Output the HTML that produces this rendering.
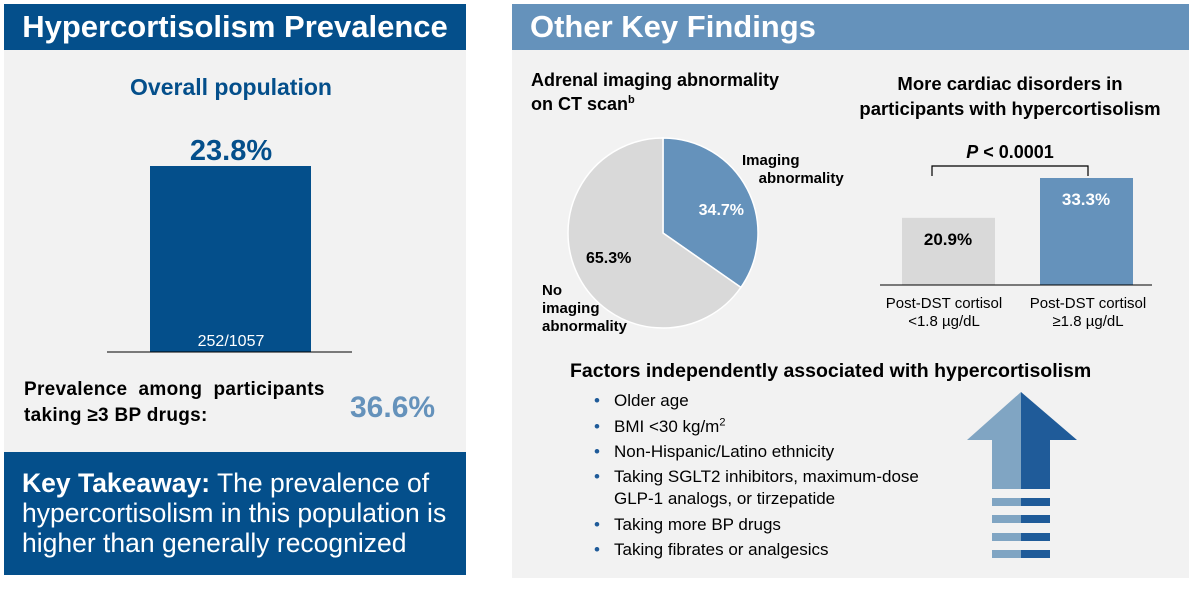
<!DOCTYPE html>
<html><head><meta charset="utf-8"><style>
body{margin:0;width:1194px;height:589px;background:#fff;font-family:"Liberation Sans",Arial,sans-serif;position:relative;overflow:hidden}
.a{position:absolute}
b{font-weight:bold}
.bl{position:relative;padding-left:20px}
.bl span{position:absolute;left:0;color:#1f5b99}
</style></head><body>
<div class="a" style="left:4px;top:4px;width:462px;height:571px;background:#f2f2f2"></div>
<div class="a" style="left:4px;top:4px;width:462px;height:46px;background:#044f8b;color:#fff;font-size:31px;font-weight:bold;line-height:46px;text-align:center">Hypercortisolism Prevalence</div>
<div class="a" style="left:512px;top:4px;width:677px;height:574px;background:#f2f2f2"></div>
<div class="a" style="left:512px;top:4px;width:677px;height:46px;background:#6592bb;color:#fff;font-size:31px;font-weight:bold;line-height:46px;padding-left:18px;box-sizing:border-box">Other Key Findings</div>

<div class="a" style="left:4px;top:74px;width:454px;text-align:center;color:#044f8b;font-size:23px;font-weight:bold">Overall population</div>
<svg class="a" style="left:0;top:0" width="1194" height="589">
<g id="g"></g>
</svg>
<div class="a" style="left:24px;top:377px;font-size:19px;font-weight:bold;line-height:26px;letter-spacing:0.3px">Prevalence&nbsp; among&nbsp; participants<br>taking ≥3 BP drugs:</div>
<div class="a" style="left:350px;top:391px;font-size:30px;font-weight:bold;color:#6592bb">36.6%</div>
<div class="a" style="left:4px;top:452px;width:462px;height:123px;background:#044f8b;color:#fff;font-size:26.5px;line-height:30px;padding:16px 0 0 18px;box-sizing:border-box"><b>Key Takeaway:</b> The prevalence of hypercortisolism in this population is higher than generally recognized</div>

<div class="a" style="left:531px;top:68px;font-size:18px;font-weight:bold;line-height:24px">Adrenal imaging abnormality<br>on CT scan<sup style="font-size:11px;line-height:0">b</sup></div>
<div class="a" style="left:840px;top:71px;width:340px;text-align:center;font-size:18.5px;font-weight:bold;line-height:25px">More cardiac disorders in<br>participants with hypercortisolism</div>
<div class="a" style="left:742px;top:152px;font-size:15px;font-weight:bold;line-height:18px">Imaging<br>&nbsp;&nbsp;&nbsp;&nbsp;abnormality</div>
<div class="a" style="left:542px;top:282px;font-size:15px;font-weight:bold;line-height:18px">No<br>imaging<br>abnormality</div>
<div class="a" style="left:932px;top:142px;width:156px;text-align:center;font-size:18px;font-weight:bold"><i>P</i> &lt; 0.0001</div>
<div class="a" style="left:874px;top:295px;width:140px;text-align:center;font-size:15px;line-height:18px">Post-DST cortisol<br>&lt;1.8 µg/dL</div>
<div class="a" style="left:1018px;top:295px;width:140px;text-align:center;font-size:15px;line-height:18px">Post-DST cortisol<br>≥1.8 µg/dL</div>

<div class="a" style="left:570px;top:360px;font-size:19.5px;font-weight:bold">Factors independently associated with hypercortisolism</div>
<div class="a" style="left:594px;top:388px;font-size:17px;line-height:25.5px">
<div class="bl"><span>•</span>Older age</div>
<div class="bl"><span>•</span>BMI &lt;30 kg/m<sup style="font-size:11px;line-height:0">2</sup></div>
<div class="bl"><span>•</span>Non-Hispanic/Latino ethnicity</div>
<div class="bl" style="line-height:22px;margin:1px 0 2px"><span>•</span>Taking SGLT2 inhibitors, maximum-dose<br>GLP-1 analogs, or tirzepatide</div>
<div class="bl"><span>•</span>Taking more BP drugs</div>
<div class="bl"><span>•</span>Taking fibrates or analgesics</div>
</div>
<script>
const overallValue=23.8, overallLabel="23.8%", overallCount="252/1057";
const pieCategories=["Imaging abnormality","No imaging abnormality"];
const pieValues=[34.7,65.3];
const cardiacCategories=["<1.8","≥1.8"];
const cardiacValues=[20.9,33.3];
const NS="http://www.w3.org/2000/svg";
const g=document.getElementById('g');
function mk(t,a,txt){const e=document.createElementNS(NS,t);for(const k in a)e.setAttribute(k,a[k]);if(txt!=null)e.textContent=txt;g.appendChild(e);return e;}
const y1=v=>352-v*(186/23.8);
let e=mk('rect',{x:150,y:y1(overallValue),width:161,height:352-y1(overallValue),fill:'#044f8b'});


e=mk('line',{x1:107,x2:352,y1:352,y2:352,stroke:'#000','stroke-width':1});


e=mk('text',{x:231,y:y1(overallValue)-6,'text-anchor':'middle','font-size':29,'font-weight':'bold',fill:'#044f8b'},overallLabel);


e=mk('text',{x:231,y:346,'text-anchor':'middle','font-size':16,fill:'#fff'},overallCount);


const cx=663,cy=233,r=95,tot=pieValues.reduce((a,b)=>a+b,0);
const pieColors=['#6592bb','#d9d9d9'];
let ang=-Math.PI/2;
pieValues.forEach((v,i)=>{const a2=ang+v/tot*2*Math.PI;const big=(a2-ang)>Math.PI?1:0;
const d=`M${cx},${cy}L${cx+r*Math.cos(ang)},${cy+r*Math.sin(ang)}A${r},${r} 0 ${big} 1 ${cx+r*Math.cos(a2)},${cy+r*Math.sin(a2)}Z`;
let p=mk('path',{d,fill:pieColors[i],stroke:'#fff','stroke-width':1.5});


const m=(ang+a2)/2,lr=r*0.55;
let t=mk('text',{x:cx+lr*Math.cos(m)+(i==0?12:-8),y:cy+lr*Math.sin(m)+6,'text-anchor':'middle','font-size':16,'font-weight':'bold',fill:i==0?'#fff':'#000'},v.toFixed(1)+'%');


ang=a2;});
const yc=v=>285-v*(107/33.3);
const bx=[902,1040],bc=['#d9d9d9','#6592bb'];
cardiacValues.forEach((v,i)=>{let b=mk('rect',{x:bx[i],y:yc(v),width:93,height:285-yc(v),fill:bc[i]});


let t=mk('text',{x:bx[i]+46,y:yc(v)+27,'text-anchor':'middle','font-size':17,'font-weight':'bold',fill:i?'#fff':'#000'},v.toFixed(1)+'%');

});
e=mk('line',{x1:880,x2:1152,y1:285,y2:285,stroke:'#000','stroke-width':1});


e=mk('path',{d:'M932,176V166H1088V176',fill:'none',stroke:'#000','stroke-width':1.2});


e=mk('path',{d:'M1021,392L967,440H992V489H1021Z',fill:'#80a5c3'});


e=mk('path',{d:'M1021,392L1077,440H1050V489H1021Z',fill:'#1f5b99'});


[498,515,533,550].forEach((y,i)=>{let a=mk('rect',{x:992,y,width:29,height:8,fill:'#80a5c3'});


let b=mk('rect',{x:1021,y,width:29,height:8,fill:'#1f5b99'});

});
</script>
</body></html>
